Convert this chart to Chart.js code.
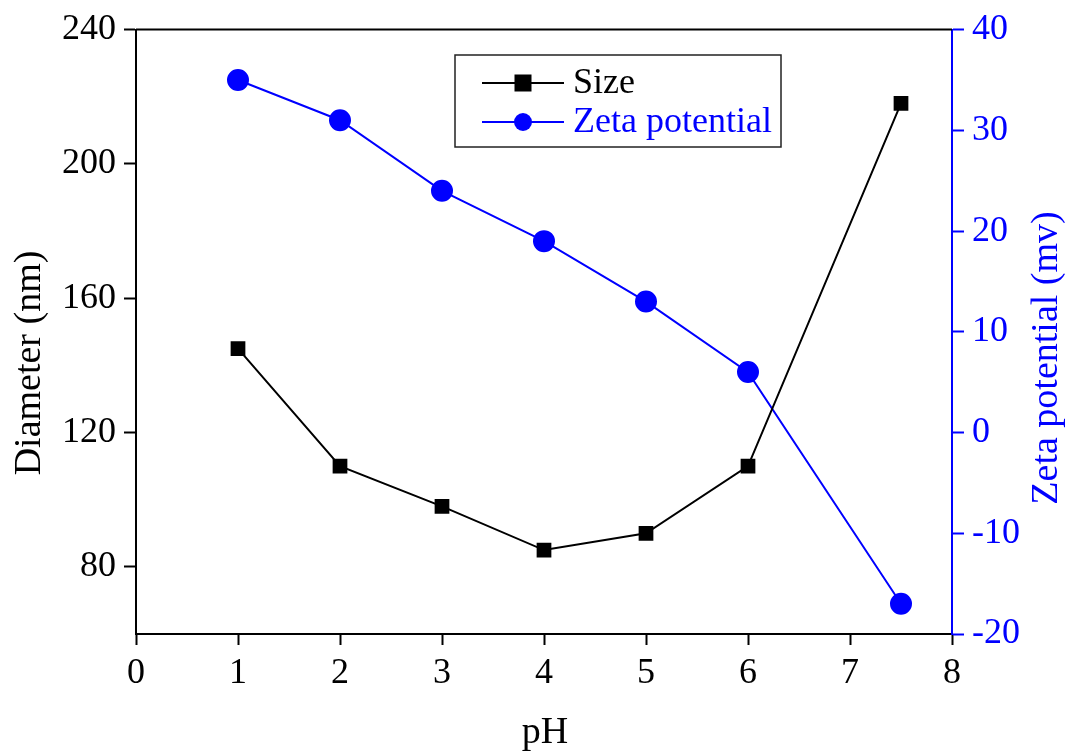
<!DOCTYPE html>
<html>
<head>
<meta charset="utf-8">
<script src="https://cdn.jsdelivr.net/npm/chart.js@4.4.1/dist/chart.umd.min.js"></script>
<style>
  html, body { margin: 0; padding: 0; background: #fff; }
  #wrap { width: 1075px; height: 751px; }
</style>
</head>
<body>
<div id="wrap"><canvas id="c" width="1075" height="751"></canvas></div>
<script>
// pH values of the samples
const phValues = [1, 2, 3, 4, 5, 6, 7.5];
// Hydrodynamic diameter (nm)
const sizeNm = [145, 110, 98, 85, 90, 110, 218];
// Zeta potential (mV)
const zetaMv = [35, 31, 24, 19, 13, 6, -17];
// Tick labels for the three axes
const xTicks = [0, 1, 2, 3, 4, 5, 6, 7, 8];
const leftTicks = [80, 120, 160, 200, 240];
const rightTicks = [-20, -10, 0, 10, 20, 30, 40];
// Axis titles
const xTitle = 'pH';
const leftTitle = 'Diameter (nm)';
const rightTitle = 'Zeta potential (mv)';

const BLUE = '#0000ff';
const FONT = '"Liberation Serif", "Times New Roman", serif';
const TICK_FONT = { family: FONT, size: 36 };

// Frame line along the top of the plot area
const topBorder = {
  id: 'topBorder',
  afterDatasetsDraw(chart) {
    const { ctx, chartArea: a } = chart;
    ctx.save();
    ctx.strokeStyle = '#000';
    ctx.lineWidth = 2;
    ctx.beginPath();
    ctx.moveTo(a.left, a.top);
    ctx.lineTo(a.right, a.top);
    ctx.stroke();
    ctx.restore();
  }
};

// Axis titles, placed by hand
const axisTitles = {
  id: 'axisTitles',
  afterDraw(chart) {
    const { ctx } = chart;
    ctx.save();
    ctx.font = '38px ' + FONT;
    ctx.textAlign = 'center';
    ctx.textBaseline = 'middle';
    ctx.fillStyle = '#000';
    ctx.fillText(xTitle, 545, 733);
    ctx.translate(30, 363);
    ctx.rotate(-Math.PI / 2);
    ctx.fillText(leftTitle, 0, 0);
    ctx.restore();
    ctx.save();
    ctx.font = '38px ' + FONT;
    ctx.textAlign = 'center';
    ctx.textBaseline = 'middle';
    ctx.fillStyle = BLUE;
    ctx.translate(1047, 358);
    ctx.rotate(-Math.PI / 2);
    ctx.fillText(rightTitle, 0, 0);
    ctx.restore();
  }
};

// Boxed legend inside the plot area
const boxLegend = {
  id: 'boxLegend',
  afterDraw(chart) {
    const { ctx } = chart;
    const box = { x: 455, y: 55, w: 326, h: 92 };
    ctx.save();
    ctx.strokeStyle = '#222';
    ctx.lineWidth = 1.5;
    ctx.strokeRect(box.x, box.y, box.w, box.h);
    const rows = [83, 122];
    chart.data.datasets.forEach((ds, i) => {
      const y = rows[i];
      ctx.strokeStyle = ds.borderColor;
      ctx.lineWidth = 2;
      ctx.beginPath();
      ctx.moveTo(482, y);
      ctx.lineTo(564, y);
      ctx.stroke();
      ctx.fillStyle = ds.backgroundColor;
      if (ds.pointStyle === 'rect') {
        ctx.fillRect(523 - 8.5, y - 8.5, 17, 17);
      } else {
        ctx.beginPath();
        ctx.arc(523, y, 9, 0, Math.PI * 2);
        ctx.fill();
      }
      ctx.fillStyle = ds.borderColor;
      ctx.font = '36px ' + FONT;
      ctx.textBaseline = 'middle';
      ctx.textAlign = 'left';
      ctx.fillText(ds.label, 573, y + 1);
    });
    ctx.restore();
  }
};

new Chart(document.getElementById('c'), {
  type: 'line',
  data: {
    datasets: [
      {
        label: 'Size',
        data: phValues.map((x, i) => ({ x, y: sizeNm[i] })),
        yAxisID: 'y',
        borderColor: '#000',
        backgroundColor: '#000',
        borderWidth: 2,
        pointStyle: 'rect',
        pointRadius: 9,
        pointHoverRadius: 9,
        tension: 0
      },
      {
        label: 'Zeta potential',
        data: phValues.map((x, i) => ({ x, y: zetaMv[i] })),
        yAxisID: 'y2',
        borderColor: BLUE,
        backgroundColor: BLUE,
        borderWidth: 2,
        pointStyle: 'circle',
        pointRadius: 10,
        pointHoverRadius: 10,
        tension: 0
      }
    ]
  },
  options: {
    responsive: false,
    animation: false,
    layout: { padding: { top: 28, left: 0, right: 0, bottom: 0 } },
    plugins: { legend: { display: false }, tooltip: { enabled: false } },
    scales: {
      x: {
        type: 'linear',
        min: 0, max: 8,
        afterBuildTicks: s => { s.ticks = xTicks.map(v => ({ value: v })); },
        afterFit: s => { s.height = 117; },
        border: { color: '#000', width: 2 },
        grid: { drawOnChartArea: false, color: '#000', tickLength: 11, tickWidth: 2 },
        ticks: { color: '#000', font: TICK_FONT, padding: 7 }
      },
      y: {
        type: 'linear',
        position: 'left',
        min: 60, max: 240,
        afterBuildTicks: s => { s.ticks = leftTicks.map(v => ({ value: v })); },
        afterFit: s => { s.width = 136; },
        border: { color: '#000', width: 2 },
        grid: { drawOnChartArea: false, color: '#000', tickLength: 12, tickWidth: 2 },
        ticks: { color: '#000', font: TICK_FONT, padding: 8 }
      },
      y2: {
        type: 'linear',
        position: 'right',
        min: -20, max: 40,
        afterBuildTicks: s => { s.ticks = rightTicks.map(v => ({ value: v })); },
        afterFit: s => { s.width = 123; },
        border: { color: BLUE, width: 2 },
        grid: { drawOnChartArea: false, color: BLUE, tickLength: 12, tickWidth: 2 },
        ticks: { color: BLUE, font: TICK_FONT, padding: 8,
                 callback: v => (v < 0 ? '-' + Math.abs(v) : String(v)) }
      }
    }
  },
  plugins: [topBorder, axisTitles, boxLegend]
});
</script>
</body>
</html>
